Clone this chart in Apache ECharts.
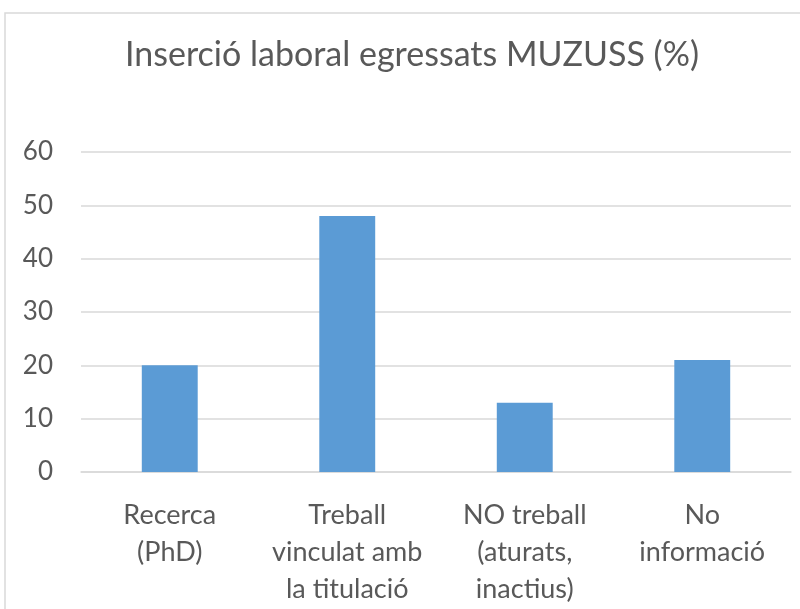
<!DOCTYPE html>
<html>
<head>
<meta charset="utf-8">
<script src="https://cdn.jsdelivr.net/npm/echarts@6/dist/echarts.min.js"></script>
<style>
html, body { margin: 0; padding: 0; background: #fff; }
#chart { width: 800px; height: 609px; }
</style>
</head>
<body>
<div id="chart"></div>
<script>
// categories and values
const categories = [
    'Recerca\n(PhD)',
    'Treball\nvinculat amb\nla titulació',
    'NO treball\n(aturats,\ninactius)',
    'No\ninformació'
]
const percentages = [20, 48, 13, 21]
const titleText = 'Inserció laboral egressats MUZUSS (%)'

const fontFamily = 'Lato, "Open Sans", sans-serif'
const chart = echarts.init(document.getElementById('chart'))
chart.setOption({
    animation: false,
    title: {
        text: titleText,
        left: 120,
        top: 33,
        textStyle: {
            fontFamily: fontFamily,
            fontSize: 34,
            fontWeight: 'normal',
            color: '#595959'
        }
    },
    graphic: [{
        type: 'rect',
        shape: { x: 5, y: 13, width: 900, height: 700 },
        style: { fill: 'none', stroke: '#d9d9d9', lineWidth: 1.5 },
        silent: true
    }],
    grid: {
        left: 81,
        right: 9,
        top: 152,
        bottom: 137
    },
    xAxis: {
        type: 'category',
        data: categories,
        axisLine: { lineStyle: { color: '#d9d9d9', width: 1.5 } },
        axisTick: { show: false },
        axisLabel: {
            interval: 0,
            margin: 25,
            fontFamily: fontFamily,
            fontSize: 27,
            lineHeight: 37,
            color: '#595959'
        }
    },
    yAxis: {
        type: 'value',
        min: 0,
        max: 60,
        interval: 10,
        axisLine: { show: false },
        axisTick: { show: false },
        splitLine: { lineStyle: { color: '#d9d9d9', width: 1.5 } },
        axisLabel: {
            margin: 28,
            fontFamily: fontFamily,
            fontSize: 26,
            color: '#595959'
        }
    },
    series: [{
        type: 'bar',
        data: percentages,
        barWidth: '31.5%',
        itemStyle: { color: '#5b9bd5' }
    }]
})
</script>
</body>
</html>
